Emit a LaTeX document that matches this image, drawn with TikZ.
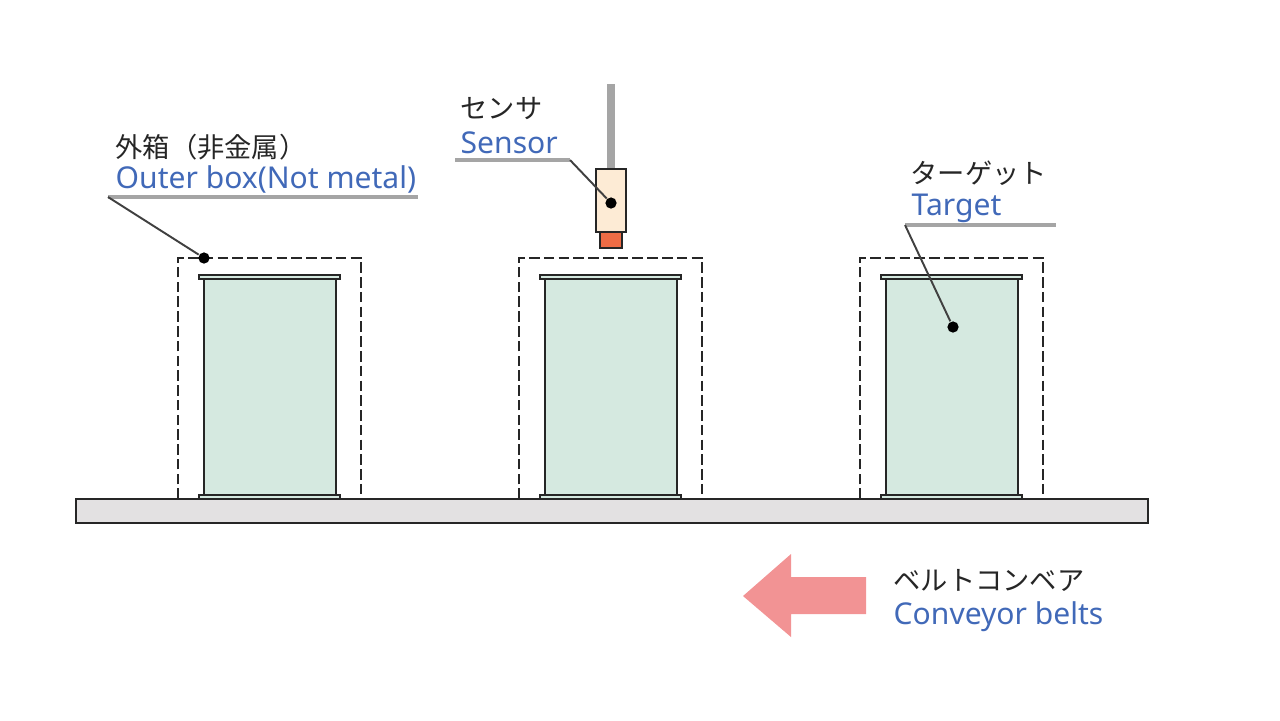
\documentclass[tikz,border=0pt]{standalone}
\usepackage{fontspec}
\setmainfont{Noto Sans}
\newfontfamily\jpfont{Noto Sans CJK JP}
\definecolor{boxfill}{HTML}{D5E9E0}
\definecolor{beltfill}{HTML}{E3E1E2}
\definecolor{sensorfill}{HTML}{FDEBD5}
\definecolor{tipfill}{HTML}{EE6C45}
\definecolor{arrowfill}{HTML}{F29394}
\definecolor{labelblue}{HTML}{4169B8}
\definecolor{leadgray}{HTML}{A5A5A5}
\tikzset{
  jplabel/.style={anchor=base west,inner sep=0pt,font=\jpfont\fontsize{7.75}{9}\selectfont,text=black!85},
  enlabel/.style={anchor=base west,inner sep=0pt,font=\fontsize{8.55}{10}\selectfont,text=labelblue},
  shelf/.style={leadgray,line width=0.9pt},
  lead/.style={black!75,line width=0.55pt},
  pin/.style={circle,fill=black,inner sep=0pt,minimum size=3.2pt},
  part/.style={draw=black!85,line width=0.65pt}
}
\begin{document}
\begin{tikzpicture}[x=0.01cm,y=-0.01cm]
  \useasboundingbox (0,0) rectangle (1280,720);
  \coordinate (BL) at (76,499);
  \draw[part,fill=beltfill] (BL) rectangle (1148,523);
  \foreach \n/\xa in {a/178,b/519,c/860}{
    \draw[black!85,line width=0.65pt,dash pattern=on 3pt off 1.2pt] (\xa,499) -- (\xa,258) -- (\xa+183,258) -- (\xa+183,499);
    \draw[part,fill=boxfill] (\xa+26,279) rectangle (\xa+158,495);
    \draw[black!85,line width=0.5pt,fill=boxfill] (\xa+21,275) rectangle (\xa+162,279);
    \draw[black!85,line width=0.5pt,fill=boxfill] (\xa+21,495) rectangle (\xa+162,499);
  }
  % sensor
  \fill[leadgray] (607,84) rectangle (615,169);
  \draw[part,fill=tipfill] (600,232) rectangle (622,248);
  \draw[part,fill=sensorfill] (596,169) rectangle (626,232);
  % leaders
  \node[pin] (boxpin) at (204,258) {};
  \node[pin] (sensorpin) at (611,203) {};
  \node[pin] (targetpin) at (953,327) {};
  \coordinate (boxbend) at (108,197);
  \coordinate (sensorbend) at (570,160);
  \coordinate (targetbend) at (905,225);
  \draw[shelf] (boxbend) -- (418,197);
  \draw[shelf] (455,160) -- (sensorbend);
  \draw[shelf] (targetbend) -- (1056,225);
  \draw[lead] (boxbend) -- (boxpin);
  \draw[lead] (sensorbend) -- (sensorpin);
  \draw[lead] (targetbend) -- (targetpin);
  % labels
  \node[jplabel] (boxjp) at (115,157) {外箱（非金属）};
  \node[enlabel] (boxen) at (115,188) {Outer box(Not metal)};
  \node[jplabel] (sensorjp) at (460,118) {センサ};
  \node[enlabel] (sensoren) at (460,153) {Sensor};
  \node[jplabel] (targetjp) at (910,183) {ターゲット};
  \node[enlabel] (targeten) at (911,215) {Target};
  \node[jplabel] (beltjp) at (893,590) {ベルトコンベア};
  \node[enlabel] (belten) at (893,624) {Conveyor belts};
  % direction arrow
  \fill[arrowfill] (743,596) -- (791,554) -- (791,577) -- (866,577) -- (866,614) -- (791,614) -- (791,637) -- cycle;
\end{tikzpicture}
\end{document}
